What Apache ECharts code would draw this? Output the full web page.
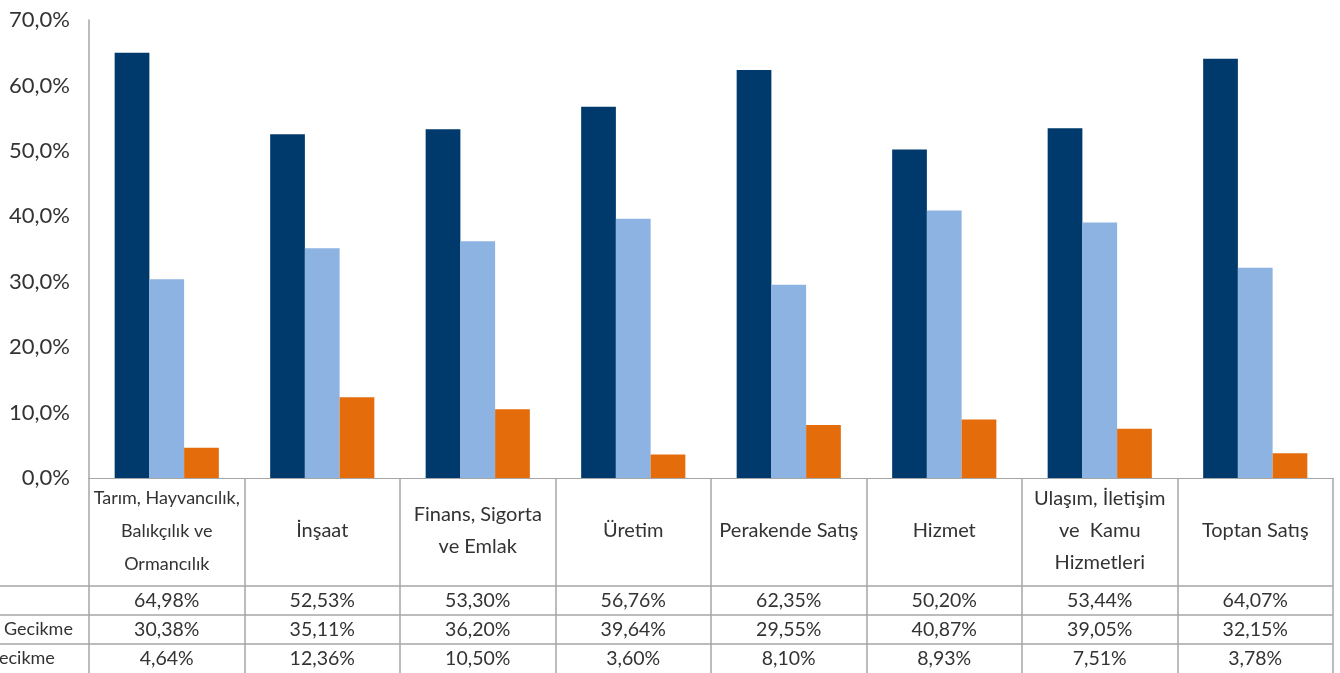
<!DOCTYPE html>
<html><head><meta charset="utf-8">
<script src="https://cdn.jsdelivr.net/npm/echarts@6/dist/echarts.min.js"></script>
<style>html,body{margin:0;padding:0;background:#fff}#c{width:1340px;height:673px}</style>
</head><body><div id="c"></div>
<script>
const categories = ['Tarım, Hayvancılık,\nBalıkçılık ve\nOrmancılık','İnşaat','Finans, Sigorta\nve Emlak','Üretim','Perakende Satış','Hizmet','Ulaşım, İletişim\nve  Kamu\nHizmetleri','Toptan Satış'];
const seriesA = [64.98,52.53,53.30,56.76,62.35,50.20,53.44,64.07];
const seriesB = [30.38,35.11,36.20,39.64,29.55,40.87,39.05,32.15];
const seriesC = [4.64,12.36,10.50,3.60,8.10,8.93,7.51,3.78];
const rowLabels = ['', 'Gecikme', 'ecikme'];
const colors = ['#003a6c','#8db3e2','#e46c0a'];
const FONT = 'Lato';
const fmt = v => v.toFixed(2).replace('.', ',') + '%';

const chart = echarts.init(document.getElementById('c'));
const rows = [seriesA, seriesB, seriesC];
const rowMargins = [123, 152, 181];
const xAxes = [{
  type:'category', data:categories, position:'bottom',
  axisLine:{show:true,lineStyle:{color:'#a6a6a6',width:1}},
  axisTick:{show:true,length:195,lineStyle:{color:'#a6a6a6',width:1.5}},
  axisLabel:{interval:0,margin:53,verticalAlign:'middle',color:'#333',fontFamily:FONT,fontSize:20,lineHeight:32,
    formatter:(v,i)=> i===0 ? v.split('\n').map(s=>'{s|'+s+'}').join('\n') : v,
    rich:{s:{fontSize:18,lineHeight:33,fontFamily:FONT,color:'#333'}}}
}];
rows.forEach((r,i)=>{
  xAxes.push({type:'category',data:r.map(fmt),position:'bottom',
    axisLine:{show:false},axisTick:{show:false},
    axisLabel:{interval:0,margin:rowMargins[i],verticalAlign:'middle',color:'#333',fontFamily:FONT,fontSize:19.5}});
});
const hLines = [586,615,644].map(y=>({type:'line',shape:{x1:0,y1:y,x2:1333,y2:y},style:{stroke:'#a6a6a6',lineWidth:1.5}}));
const texts = rowLabels.map((t,i)=>({type:'text',left:i===2?-1:4,top:rowMargins[i]+478-10,style:{text:t,fill:'#333',font:'18px '+FONT}}));
chart.setOption({
  animation:false,
  grid:{left:89,right:7,top:20,bottom:195,containLabel:false},
  xAxis:xAxes,
  yAxis:{type:'value',min:0,max:70,interval:10,
    axisLine:{show:true,lineStyle:{color:'#a6a6a6',width:1.5}},axisTick:{show:false},splitLine:{show:false},
    axisLabel:{margin:19,color:'#333',fontFamily:FONT,fontSize:22,formatter:v=>v.toFixed(1).replace('.',',')+'%'}},
  series:[seriesA,seriesB,seriesC].map((d,i)=>({type:'bar',data:d,xAxisIndex:0,barGap:'0%',barCategoryGap:'33%',itemStyle:{color:colors[i]}})),
  graphic:hLines.concat(texts)
});
</script></body></html>
